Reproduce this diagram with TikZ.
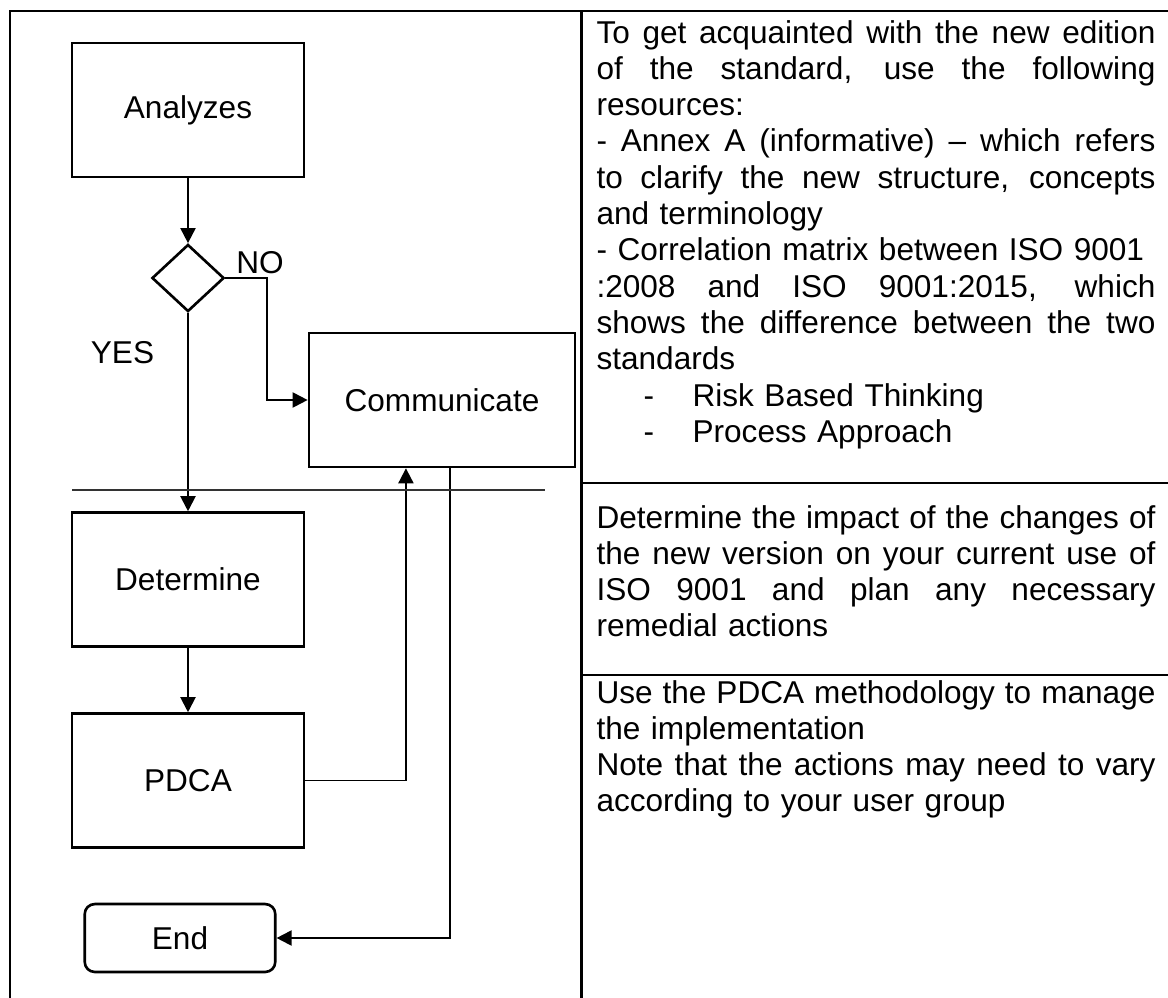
\documentclass[tikz,border=0pt]{standalone}
\usepackage{fontspec}
\setmainfont{Liberation Sans}
\usetikzlibrary{shapes.geometric,arrows.meta}
\newlength{\cellwd}
\setlength{\cellwd}{212.4pt}
\tikzset{
  box/.style={draw,line width=1pt,minimum width=88.2pt,minimum height=50.9pt,inner sep=0pt},
  decision/.style={diamond,draw,line width=1pt,minimum width=27.4pt,minimum height=25.5pt,inner sep=0pt},
  endbox/.style={draw,line width=1pt,rounded corners=3.8pt,minimum width=72.4pt,minimum height=25.8pt,inner sep=0pt},
  arr/.style={line width=0.75pt,-{Triangle[length=5.7pt,width=5.7pt]}},
  frame/.style={line width=0.9pt},
  sepline/.style={line width=0.6pt,black!80},
  cell/.style={anchor=base west,inner sep=0pt,text width=\cellwd,align=left}
}
\newcommand{\just}[1]{\makebox[\cellwd][s]{\spaceskip=0pt\xspaceskip=0pt\relax #1}}
\newcommand{\dashitem}[1]{\makebox[36.5pt][l]{\hspace*{17.9pt}-}#1}
\begin{document}
\begin{tikzpicture}[x=0.38pt,y=-0.38pt,font=\fontsize{12}{13.8}\selectfont]
\useasboundingbox (0,0) rectangle (1168,998);
\draw[frame] (10,998) -- (10,11) -- (1168,11);
\draw[frame] (581.5,11) -- (581.5,998);
\draw[frame] (581.5,483) -- (1168,483);
\draw[frame] (581.5,675) -- (1168,675);

\node[box] (ana) at (188,110) {Analyzes};
\node[decision] (dia) at (188,278) {};
\node[box,minimum width=101.1pt] (com) at (442,400) {Communicate};
\node[box] (det) at (188,579.5) {Determine};
\node[box] (pdca) at (188,780.5) {PDCA};
\node[endbox] (finish) at (180,938) {End};
\node (no) at (260,263) {NO};
\node (yes) at (122.5,353) {YES};

\coordinate (nobend) at (267,278);
\coordinate (sepL) at (72,490);
\coordinate (sepR) at (544.6,490);

\draw[arr] (ana) -- (dia);
\draw[arr] (dia.east) -- (nobend) |- (com.west);
\draw[arr] (dia) -- (det);
\draw[arr] (det) -- (pdca);
\draw[arr] (pdca.east) -| ([xshift=-13.7pt]com.south);
\draw[arr] ([xshift=2.9pt]com.south) |- (finish.east);
\draw[sepline] (sepL) -- (sepR);

\node[cell] (resources) at (596,43) {%
\just{To get acquainted with the new edition}\\
\just{of the standard, use the following}\\
resources:\\
\just{- Annex A (informative) -- which refers}\\
\just{to clarify the new structure, concepts}\\
and terminology\\
- Correlation matrix between ISO 9001\\
\just{:2008 and ISO 9001:2015, which}\\
\just{shows the difference between the two}\\
standards\\
\dashitem{Risk Based Thinking}\\
\dashitem{Process Approach}};
\node[cell] (impact) at (596,528) {%
\just{Determine the impact of the changes of}\\
\just{the new version on your current use of}\\
\just{ISO 9001 and plan any necessary}\\
remedial actions};
\node[cell] (method) at (596,703) {%
\just{Use the PDCA methodology to manage}\\
the implementation\\
\just{Note that the actions may need to vary}\\
according to your user group};
\end{tikzpicture}
\end{document}
